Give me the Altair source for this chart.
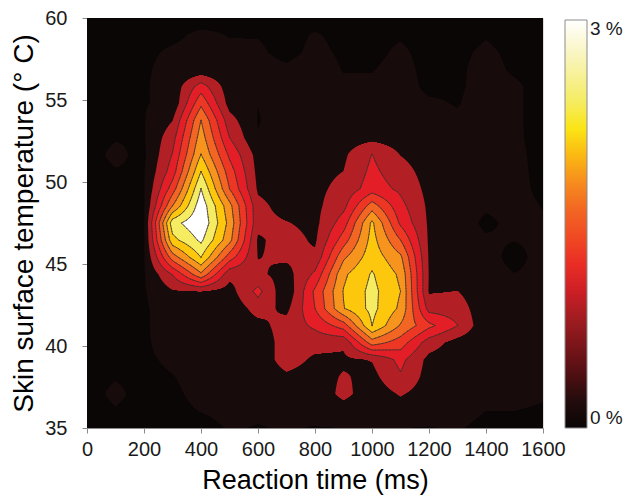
import numpy as np
import pandas as pd
import altair as alt

alt.data_transformers.disable_max_rows()

# ---------------- data ----------------
reaction_ms = [0, 100, 200, 300, 400, 500, 600, 700, 800, 900, 1000, 1100, 1200, 1300, 1400, 1500, 1600]
temperature_c = [35.0, 36.042, 37.083, 38.125, 39.167, 40.208, 41.25, 42.292, 43.333, 44.375,
                 45.417, 46.458, 47.5, 48.542, 49.583, 50.625, 51.667, 52.708, 53.75, 54.792,
                 55.833, 56.875, 57.917, 58.958, 60.0]

# share of trials (%) ; rows from 60 degC (top) down to 35 degC (bottom), columns = reaction_ms
share_pct = [
    [0.21, 0.21, 0.225, 0.24, 0.24, 0.255, 0.255, 0.24, 0.24, 0.225, 0.225, 0.24, 0.225, 0.225, 0.24, 0.225, 0.21],
    [0.225, 0.225, 0.255, 0.27, 0.33, 0.294, 0.291, 0.24, 0.315, 0.255, 0.255, 0.282, 0.225, 0.24, 0.288, 0.24, 0.21],
    [0.24, 0.24, 0.27, 0.321, 0.345, 0.33, 0.33, 0.246, 0.345, 0.27, 0.255, 0.33, 0.24, 0.264, 0.33, 0.261, 0.225],
    [0.24, 0.24, 0.276, 0.36, 0.381, 0.375, 0.36, 0.33, 0.39, 0.291, 0.291, 0.36, 0.246, 0.27, 0.36, 0.273, 0.225],
    [0.24, 0.24, 0.279, 0.39, 1.038, 0.42, 0.39, 0.36, 0.39, 0.33, 0.33, 0.39, 0.252, 0.27, 0.375, 0.33, 0.234],
    [0.24, 0.24, 0.285, 0.36, 1.431, 0.48, 0.306, 0.39, 0.42, 0.39, 0.39, 0.39, 0.33, 0.288, 0.39, 0.33, 0.234],
    [0.24, 0.24, 0.285, 0.594, 1.806, 0.72, 0.285, 0.42, 0.45, 0.42, 0.42, 0.42, 0.39, 0.33, 0.39, 0.33, 0.234],
    [0.24, 0.288, 0.285, 0.78, 1.95, 0.9, 0.315, 0.42, 0.45, 0.45, 0.51, 0.45, 0.42, 0.39, 0.405, 0.33, 0.24],
    [0.24, 0.336, 0.255, 0.915, 2.106, 1.14, 0.48, 0.42, 0.48, 0.546, 0.906, 0.591, 0.45, 0.39, 0.405, 0.345, 0.24],
    [0.24, 0.288, 0.285, 1.05, 2.406, 1.35, 0.51, 0.45, 0.51, 0.603, 0.975, 0.72, 0.48, 0.42, 0.405, 0.36, 0.24],
    [0.24, 0.24, 0.285, 1.35, 2.706, 1.5, 0.555, 0.45, 0.525, 0.69, 1.05, 0.84, 0.51, 0.42, 0.39, 0.36, 0.255],
    [0.24, 0.24, 0.285, 1.8, 2.9, 1.9, 0.681, 0.48, 0.525, 0.81, 1.65, 0.99, 0.54, 0.42, 0.33, 0.36, 0.294],
    [0.24, 0.24, 0.285, 2.58, 2.97, 2.0, 0.69, 0.615, 0.519, 1.05, 2.16, 1.14, 0.555, 0.42, 0.255, 0.36, 0.315],
    [0.24, 0.24, 0.285, 2.3, 2.76, 1.9, 0.555, 0.72, 0.555, 1.35, 2.22, 1.5, 0.555, 0.42, 0.33, 0.306, 0.345],
    [0.24, 0.24, 0.285, 1.65, 2.406, 1.35, 0.59, 0.66, 0.66, 1.74, 2.28, 1.86, 0.57, 0.42, 0.387, 0.225, 0.387],
    [0.24, 0.24, 0.279, 0.915, 1.74, 0.69, 0.66, 0.48, 0.96, 2.04, 2.43, 2.04, 0.585, 0.45, 0.39, 0.306, 0.36],
    [0.24, 0.24, 0.276, 0.57, 0.606, 0.48, 0.99, 0.36, 1.26, 2.115, 2.49, 2.1, 0.57, 0.606, 0.39, 0.36, 0.345],
    [0.24, 0.24, 0.27, 0.42, 0.45, 0.39, 0.72, 0.525, 1.2, 2.085, 2.49, 2.04, 0.78, 0.75, 0.39, 0.36, 0.345],
    [0.24, 0.24, 0.27, 0.42, 0.42, 0.39, 0.51, 0.72, 0.96, 1.35, 2.406, 1.77, 1.281, 0.906, 0.36, 0.345, 0.33],
    [0.24, 0.24, 0.27, 0.39, 0.39, 0.39, 0.39, 0.75, 0.72, 0.66, 1.65, 1.35, 0.75, 0.48, 0.36, 0.345, 0.33],
    [0.24, 0.24, 0.27, 0.33, 0.36, 0.39, 0.39, 0.75, 0.54, 0.54, 0.615, 0.99, 0.51, 0.42, 0.36, 0.33, 0.33],
    [0.24, 0.288, 0.255, 0.294, 0.36, 0.39, 0.39, 0.54, 0.45, 0.63, 0.51, 0.861, 0.48, 0.39, 0.345, 0.33, 0.315],
    [0.24, 0.336, 0.24, 0.27, 0.345, 0.36, 0.36, 0.36, 0.381, 0.69, 0.42, 0.63, 0.45, 0.39, 0.33, 0.315, 0.306],
    [0.225, 0.288, 0.24, 0.255, 0.306, 0.345, 0.33, 0.33, 0.36, 0.45, 0.39, 0.45, 0.39, 0.36, 0.3, 0.3, 0.294],
    [0.21, 0.225, 0.225, 0.225, 0.24, 0.315, 0.291, 0.315, 0.291, 0.3, 0.315, 0.3, 0.291, 0.315, 0.255, 0.255, 0.24],
]

contour_levels_pct = [0.3, 0.6, 0.9, 1.2, 1.5, 1.8, 2.1, 2.4, 2.7]
# position on the colour bar used for each filled band (band 0 .. band 9)
band_colour_pos = [0.0, 0.15, 0.9, 1.1, 1.27, 1.6, 1.85, 2.07, 2.4, 3.0]

colorbar_stops = [0.0, 0.15, 0.45, 0.9, 1.1, 1.27, 1.6, 1.85, 2.07, 2.2, 2.4, 2.7, 3.0]
colorbar_colors = ["#0a0606", "#170b0b", "#5c1013", "#b21f24", "#e31e26", "#ee3624", "#f26522",
                   "#f7941d", "#fdc70e", "#fbe515", "#f5ec62", "#f8f3b4", "#ffffff"]

x_ticks = [0, 200, 400, 600, 800, 1000, 1200, 1400, 1600]
y_ticks = [35, 40, 45, 50, 55, 60]

# ---------------- filled bands (painter's order, like contourf) ----------------
X = np.array(reaction_ms, float)
Y = np.array(temperature_c, float)
Z = np.array(share_pct, float)[::-1]  # bottom -> top

NY = 410
ye = np.linspace(Y[0], Y[-1], NY + 1)
fill_rows = [dict(x=X[0], x2=X[-1], y=Y[0], y2=Y[-1], c=band_colour_pos[0])]
for L, th in enumerate(contour_levels_pct, start=1):
    for i in range(NY):
        ym = 0.5 * (ye[i] + ye[i + 1])
        j = int(np.clip(np.searchsorted(Y, ym) - 1, 0, len(Y) - 2))
        f = (ym - Y[j]) / (Y[j + 1] - Y[j])
        zr = Z[j] * (1 - f) + Z[j + 1] * f
        start = X[0] if zr[0] >= th else None
        for k in range(len(X) - 1):
            a, b = zr[k], zr[k + 1]
            if a >= th and b < th:
                xe = X[k] + (a - th) / (a - b) * (X[k + 1] - X[k])
                fill_rows.append(dict(x=round(start, 2), x2=round(xe, 2), y=round(ye[i], 4),
                                      y2=round(ye[i + 1], 4), c=band_colour_pos[L]))
                start = None
            elif a < th and b >= th:
                start = X[k] + (th - a) / (b - a) * (X[k + 1] - X[k])
        if start is not None:
            fill_rows.append(dict(x=round(start, 2), x2=X[-1], y=round(ye[i], 4),
                                  y2=round(ye[i + 1], 4), c=band_colour_pos[L]))
fill_df = pd.DataFrame(fill_rows)

# ---------------- contour lines (marching squares on bilinear refinement) ----------------
fx, fy = 8, 6
Xf = np.linspace(X[0], X[-1], (len(X) - 1) * fx + 1)
Yf = np.linspace(Y[0], Y[-1], (len(Y) - 1) * fy + 1)
Zx = np.array([np.interp(Xf, X, Z[j]) for j in range(len(Y))])
Zf = np.array([np.interp(Yf, Y, Zx[:, i]) for i in range(len(Xf))]).T

seg_rows = []
for th in contour_levels_pct[2:]:
    B = Zf >= th
    mixed = (B[:-1, :-1] != B[1:, :-1]) | (B[:-1, :-1] != B[:-1, 1:]) | (B[:-1, :-1] != B[1:, 1:])
    for j, i in zip(*np.nonzero(mixed)):
        bl, br, tr, tl = Zf[j, i], Zf[j, i + 1], Zf[j + 1, i + 1], Zf[j + 1, i]
        x0, x1, y0, y1 = Xf[i], Xf[i + 1], Yf[j], Yf[j + 1]

        def cx(a, b, p, q):
            return p + (th - a) / (b - a) * (q - p)

        pts = {}
        if (bl >= th) != (br >= th):
            pts["b"] = (cx(bl, br, x0, x1), y0)
        if (br >= th) != (tr >= th):
            pts["r"] = (x1, cx(br, tr, y0, y1))
        if (tl >= th) != (tr >= th):
            pts["t"] = (cx(tl, tr, x0, x1), y1)
        if (bl >= th) != (tl >= th):
            pts["l"] = (x0, cx(bl, tl, y0, y1))
        pairs = []
        if len(pts) == 2:
            a, b = list(pts.values())
            pairs.append((a, b))
        elif len(pts) == 4:
            centre = 0.25 * (bl + br + tr + tl)
            if (bl >= th) == (centre >= th):
                pairs += [(pts["b"], pts["r"]), (pts["t"], pts["l"])]
            else:
                pairs += [(pts["b"], pts["l"]), (pts["r"], pts["t"])]
        for (p, q) in pairs:
            seg_rows.append(dict(x=round(p[0], 2), y=round(p[1], 4), x2=round(q[0], 2), y2=round(q[1], 4)))
seg_df = pd.DataFrame(seg_rows)

# ---------------- chart ----------------
FONT = "Liberation Sans, Arial, Helvetica, sans-serif"
xscale = alt.Scale(domain=[0, 1600], nice=False, zero=False)
yscale = alt.Scale(domain=[35, 60], nice=False, zero=False)
xaxis = alt.Axis(values=x_ticks, format="d", title="Reaction time (ms)", grid=False, tickSize=5,
                 labelPadding=6, titlePadding=8, domainColor="#8a8a8a", tickColor="#8a8a8a",
                 labelFontSize=20, titleFontSize=27, labelColor="#1a1a1a", titleColor="#000000",
                 titleFontWeight="normal", labelFont=FONT, titleFont=FONT, labelFlush=False)
yaxis = alt.Axis(values=y_ticks, format="d", title="Skin surface temperature (° C)", grid=False, tickSize=5,
                 labelPadding=15, titlePadding=6, domainColor="#8a8a8a", tickColor="#8a8a8a",
                 labelFontSize=20, titleFontSize=28, labelColor="#1a1a1a", titleColor="#000000",
                 titleFontWeight="normal", labelFont=FONT, titleFont=FONT, labelFlush=False)

fill = alt.Chart(fill_df).mark_rect(strokeWidth=0).encode(
    x=alt.X("x:Q", scale=xscale, axis=xaxis),
    x2="x2:Q",
    y=alt.Y("y:Q", scale=yscale, axis=yaxis),
    y2="y2:Q",
    color=alt.Color("c:Q", scale=alt.Scale(domain=colorbar_stops, range=colorbar_colors, interpolate="rgb"),
                    legend=alt.Legend(title=None, orient="none", legendX=478, legendY=2, direction="vertical",
                                      gradientLength=408, gradientThickness=22, values=[0, 3],
                                      labelExpr="datum.value + ' %'", labelFontSize=19, labelFont=FONT,
                                      labelColor="#1a1a1a", labelBaseline="middle", labelOffset=3,
                                      gradientStrokeColor="#8c8c8c", gradientStrokeWidth=1,
                                      labelOverlap=False)),
)

lines = alt.Chart(seg_df).mark_rule(color="#3b2f2f", strokeWidth=0.75, strokeCap="round").encode(
    x=alt.X("x:Q", scale=xscale, axis=xaxis),
    x2="x2:Q",
    y=alt.Y("y:Q", scale=yscale, axis=yaxis),
    y2="y2:Q",
)

chart = alt.layer(fill, lines).properties(
    width=456, height=410,
    padding={"left": 79, "top": 10, "right": 80, "bottom": 68},
    autosize=alt.AutoSizeParams(type="none"),
).configure_view(stroke="#9a9a9a", strokeWidth=1).configure(background="white")

chart.save("out.html", embed_options={"renderer": "svg", "actions": False})
